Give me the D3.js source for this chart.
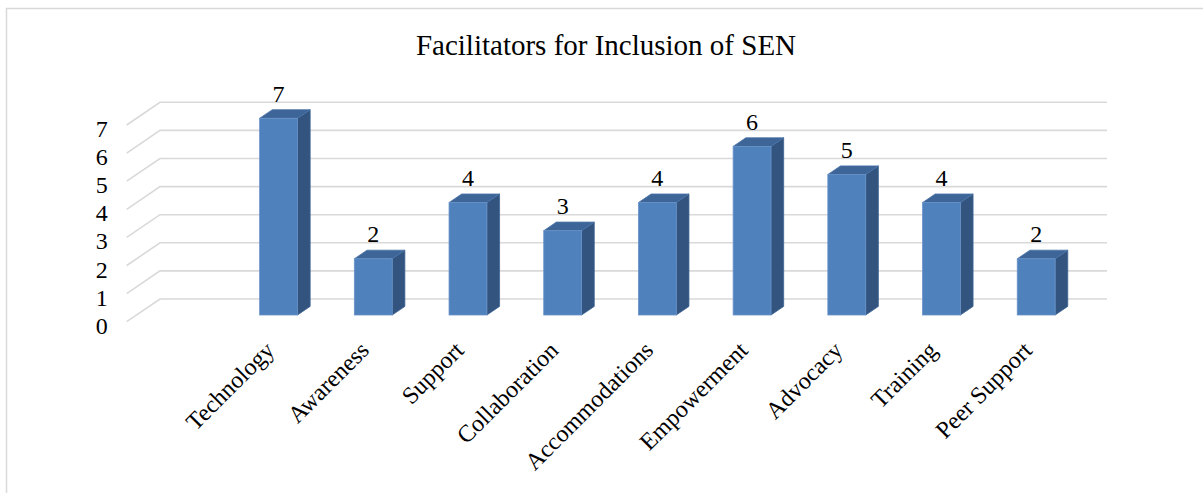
<!DOCTYPE html>
<html>
<head>
<meta charset="utf-8">
<script src="https://cdn.jsdelivr.net/npm/d3@7"></script>
<style>
  html, body { margin: 0; padding: 0; background: #ffffff; }
  svg { display: block; }
</style>
</head>
<body>
<svg id="chart" width="1203" height="493"></svg>
<script>
// ---- data ----
const title = "Facilitators for Inclusion of SEN";
const categories = ["Technology", "Awareness", "Support", "Collaboration", "Accommodations",
                    "Empowerment", "Advocacy", "Training", "Peer Support"];
const values = [7, 2, 4, 3, 4, 6, 5, 4, 2];
const yTicks = [0, 1, 2, 3, 4, 5, 6, 7];

// ---- layout ----
const FONT = "'Liberation Serif', 'Times New Roman', Times, 'DejaVu Serif', serif";
const wall = { left: 160, right: 1107, bottom: 299, top: 102.3 };
const depth = { dx: -33.3, dy: 22.7 };      // back wall -> front edge
const barFront = 0.705;                     // fraction of depth where bar front sits
const barDepth = 0.38;                      // fraction of depth the bar occupies

const svg = d3.select("#chart");

// chart border
svg.append("rect")
  .attr("x", 6.5).attr("y", 8.5)
  .attr("width", 1400).attr("height", 800)
  .attr("fill", "none").attr("stroke", "#d9d9d9").attr("stroke-width", 1.5);

// scales on the back wall
const x = d3.scaleBand()
  .domain(["", ...categories])   // leading empty slot as in the original
  .range([wall.left, wall.right]);
const y = d3.scaleLinear().domain([0, 7]).range([wall.bottom, wall.top]);

function txt(sel, size) {
  return sel.style("font-family", FONT).style("font-size", size + "px").attr("fill", "#000");
}

// title
txt(svg.append("text"), 29)
  .attr("x", 606).attr("y", 55)
  .attr("text-anchor", "middle")
  .text(title);

// gridlines (back wall + left wall diagonal)
const grid = svg.append("g");
yTicks.forEach(t => {
  const yy = y(t);
  grid.append("path")
    .attr("d", `M${wall.left + depth.dx},${yy + depth.dy} L${wall.left},${yy} L${wall.right},${yy}`)
    .attr("fill", "none").attr("stroke", "#d9d9d9").attr("stroke-width", 1.6);
});

// y tick labels
txt(svg.append("g").selectAll("text").data(yTicks).join("text"), 24)
  .attr("x", wall.left + depth.dx - 19)
  .attr("y", d => y(d) + depth.dy + 4)
  .attr("text-anchor", "end")
  .attr("dominant-baseline", "central")
  .text(d => d);

// bars
const bw = x.bandwidth() * 0.4;
const fdx = depth.dx * barFront, fdy = depth.dy * barFront;
const bdx = -depth.dx * barDepth, bdy = -depth.dy * barDepth;
const data = categories.map((c, i) => ({ c, v: values[i] }));

const bars = svg.append("g").selectAll("g").data(data).join("g");
bars.each(function(d) {
  const g = d3.select(this);
  const cx = x(d.c) + x.bandwidth() / 2 + fdx;
  const xl = cx - bw / 2, xr = cx + bw / 2;
  const yt = y(d.v) + fdy, yb = y(0) + fdy;
  // side
  g.append("path")
    .attr("d", `M${xr},${yt} L${xr + bdx},${yt + bdy} L${xr + bdx},${yb + bdy} L${xr},${yb} Z`)
    .attr("fill", "#32547f").attr("stroke", "#3d6494").attr("stroke-width", 0.8);
  // top
  g.append("path")
    .attr("d", `M${xl},${yt} L${xr},${yt} L${xr + bdx},${yt + bdy} L${xl + bdx},${yt + bdy} Z`)
    .attr("fill", "#3e6598").attr("stroke", "#4a73a8").attr("stroke-width", 0.8);
  // front
  g.append("rect")
    .attr("x", xl).attr("y", yt).attr("width", bw).attr("height", yb - yt)
    .attr("fill", "#4f81bd").attr("stroke", "#6a93c8").attr("stroke-width", 0.8);
  // value label
  txt(g.append("text"), 24)
    .attr("x", cx).attr("y", yt + bdy - 8)
    .attr("text-anchor", "middle")
    .text(d.v);
});

// category labels
txt(svg.append("g").selectAll("text").data(categories).join("text"), 24)
  .attr("text-anchor", "end")
  .attr("transform", d => {
    const fx = x(d) + x.bandwidth() / 2 + depth.dx + 7;
    const fy = wall.bottom + depth.dy + 30;
    return `translate(${fx},${fy}) rotate(-45)`;
  })
  .text(d => d);
</script>
</body>
</html>
